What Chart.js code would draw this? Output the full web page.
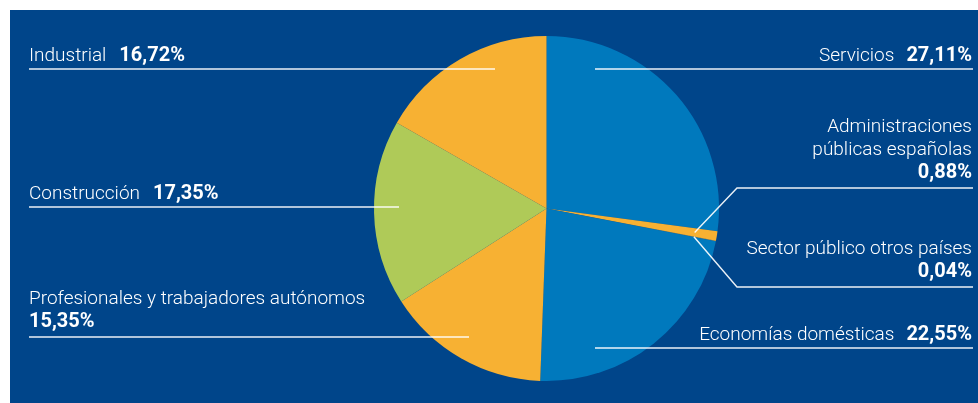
<!DOCTYPE html>
<html lang="es">
<head>
<meta charset="utf-8">
<title>Distribución del crédito por sectores</title>
<script src="https://cdn.jsdelivr.net/npm/chart.js@4/dist/chart.umd.min.js"></script>
<style>
  html, body { margin: 0; padding: 0; background: #fff; }
  #wrap { position: relative; width: 978px; height: 403px; overflow: hidden; }
  #panel { position: absolute; left: 10px; top: 10px; right: 0; bottom: 0; background: #00458A; }
  #chart { position: absolute; left: 0; top: 0; }
</style>
</head>
<body>
<div id="wrap">
  <div id="panel"></div>
  <canvas id="chart" width="978" height="403"></canvas>
</div>
<script>
// Sectores (orden de las porciones, empezando arriba y en sentido horario)
const SECTORES = [
  'Servicios',
  'Administraciones públicas españolas',
  'Sector público otros países',
  'Economías domésticas',
  'Profesionales y trabajadores autónomos',
  'Construcción',
  'Industrial',
];
const PORCENTAJES = [27.11, 0.88, 0.04, 22.55, 15.35, 17.35, 16.72];
const COLORES = ['#0079BD', '#F7B133', '#F7B133', '#0079BD', '#F7B133', '#AFCA58', '#F7B133'];

// Colocación de las etiquetas y líneas guía (una por sector)
//  side: lado del texto, lineY: altura de la línea, inner: extremo interior de la línea
//  breakAt: palabras en la primera línea del nombre, pctBelow: porcentaje en línea aparte
//  anchor: la línea baja en diagonal hasta la porción (r relativo)
const LAYOUT = [
  { side: 'right', lineY: 69,  inner: 595 },
  { side: 'right', lineY: 188, elbow: 737, anchor: 0.87, breakAt: 1, pctBelow: true },
  { side: 'right', lineY: 287, elbow: 737, anchor: 0.87, pctBelow: true },
  { side: 'right', lineY: 348, inner: 595 },
  { side: 'left',  lineY: 337, inner: 469, pctBelow: true },
  { side: 'left',  lineY: 207, inner: 399 },
  { side: 'left',  lineY: 69,  inner: 495 },
];

const LEFT_X = 29;
const RIGHT_X = 973;
const LINE_GAP = 23;
const FONT_NAME = '300 19px Roboto';
const FONT_PCT = 'bold 20px Roboto';

const fmt = v => v.toFixed(2).replace('.', ',') + '%';

const leaderLabels = {
  id: 'leaderLabels',
  afterDraw(chart) {
    const { ctx } = chart;
    const arcs = chart.getDatasetMeta(0).data;
    ctx.save();
    ctx.strokeStyle = 'rgba(255,255,255,0.92)';
    ctx.fillStyle = '#ffffff';
    ctx.lineWidth = 1.4;
    ctx.textBaseline = 'alphabetic';

    LAYOUT.forEach((cfg, i) => {
      const name = SECTORES[i];
      const pct = fmt(PORCENTAJES[i]);
      const y = cfg.lineY;

      // línea guía
      ctx.beginPath();
      if (cfg.anchor) {
        const arc = arcs[i];
        const mid = (arc.startAngle + arc.endAngle) / 2;
        const r = arc.outerRadius * cfg.anchor;
        const ax = arc.x + Math.cos(mid) * r;
        const ay = arc.y + Math.sin(mid) * r;
        ctx.moveTo(RIGHT_X, y);
        ctx.lineTo(cfg.elbow, y);
        ctx.lineTo(ax, ay);
      } else if (cfg.side === 'left') {
        ctx.moveTo(LEFT_X, y);
        ctx.lineTo(cfg.inner, y);
      } else {
        ctx.moveTo(cfg.inner, y);
        ctx.lineTo(RIGHT_X, y);
      }
      ctx.stroke();

      // texto
      let rows = [name];
      if (cfg.breakAt) {
        const words = name.split(' ');
        rows = [words.slice(0, cfg.breakAt).join(' '), words.slice(cfg.breakAt).join(' ')];
      }
      const base = y - 8;
      const right = RIGHT_X - 1;

      if (cfg.pctBelow) {
        const n = rows.length;
        ctx.font = FONT_PCT;
        ctx.textAlign = cfg.side === 'left' ? 'left' : 'right';
        ctx.fillText(pct, cfg.side === 'left' ? LEFT_X : right, base - 2);
        ctx.font = FONT_NAME;
        rows.forEach((row, k) => {
          const by = base - 2 - LINE_GAP * (n - k);
          ctx.fillText(row, cfg.side === 'left' ? LEFT_X : right, by);
        });
      } else if (cfg.side === 'left') {
        ctx.textAlign = 'left';
        ctx.font = FONT_NAME;
        ctx.fillText(name, LEFT_X, base);
        const w = ctx.measureText(name).width;
        ctx.font = FONT_PCT;
        ctx.fillText(pct, LEFT_X + w + 13, base);
      } else {
        ctx.textAlign = 'right';
        ctx.font = FONT_PCT;
        ctx.fillText(pct, right, base);
        const w = ctx.measureText(pct).width;
        ctx.font = FONT_NAME;
        ctx.fillText(name, right - w - 12, base);
      }
    });
    ctx.restore();
  }
};

new Chart(document.getElementById('chart'), {
  type: 'pie',
  data: {
    labels: SECTORES,
    datasets: [{
      data: PORCENTAJES,
      backgroundColor: COLORES,
      borderWidth: 0,
    }]
  },
  options: {
    responsive: false,
    animation: false,
    layout: { padding: { left: 374, right: 259, top: 36, bottom: 22 } },
    plugins: {
      legend: { display: false },
      tooltip: { enabled: false },
    },
  },
  plugins: [leaderLabels],
});
</script>
</body>
</html>
